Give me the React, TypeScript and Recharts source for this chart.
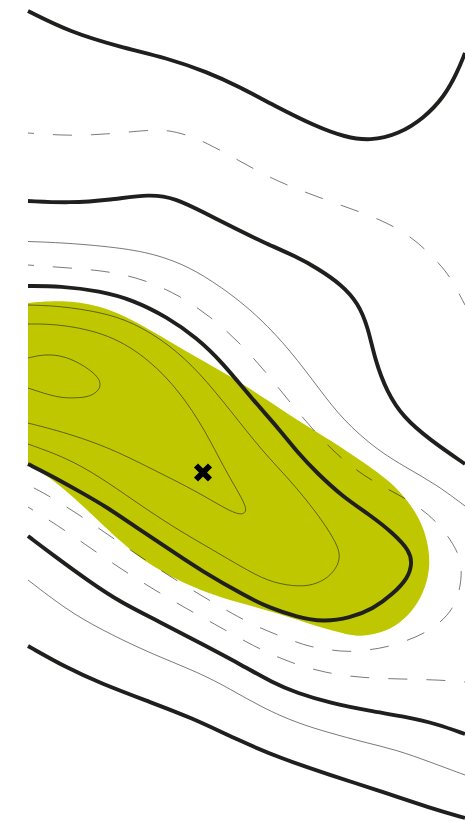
import React from "react";
import { ScatterChart, Scatter, XAxis, YAxis } from "recharts";

type Pt = [number, number];

const INK = "#1f1f1d";
const FILL = "#bfc700";

// contours, x / y in map units
const zoneOutline: Pt[] = [[28,303],[60,300],[100,305],[135,321],[170,342],[205,362],[240,382],[267,400],[297,420],[330,440],[363,462],[390,481],[409,502],[422,523],[429,547],[430,570],[424,592],[412,612],[395,627],[377,634],[357,637],[337,632],[307,623],[273,612],[240,603],[207,593],[177,580],[147,563],[128,548],[107,529],[80,503],[50,477],[28,465]];

const thickTop: Pt[] = [[28,11],[70,32],[120,47],[167,58],[207,72],[240,87],[273,105],[317,127],[345,137],[370,141],[399,134],[424,118],[444,97],[457,73],[465,53]];
const thickSecond: Pt[] = [[28,201],[70,203],[110,200],[150,194],[175,198],[205,213],[240,231],[263,242],[297,257],[317,268],[342,285],[358,303],[368,327],[375,360],[387,392],[403,417],[430,440],[465,464]];
const thickZone: Pt[] = [[28,286],[60,286],[100,291],[133,300],[167,317],[197,338],[222,362],[253,400],[280,430],[297,452],[317,473],[343,497],[370,515],[393,533],[410,551],[412,564],[408,578],[393,594],[373,609],[350,618],[323,622],[297,617],[270,608],[247,597],[200,570],[172,551],[140,530],[107,507],[77,490],[50,475],[28,464]];
const thickLower: Pt[] = [[28,536],[53,555],[90,582],[120,602],[160,622],[200,643],[240,664],[273,683],[297,693],[330,703],[370,711],[407,717],[437,724],[465,734]];
const thickBottom: Pt[] = [[28,646],[67,668],[100,683],[147,701],[190,717],[240,741],[280,758],[330,775],[380,791],[430,808],[465,818]];

const thinUpper: Pt[] = [[28,241.5],[70,243],[133,249],[167,258],[195,270],[230,293],[260,318],[290,350],[320,390],[343,420],[377,450],[407,468],[437,485],[465,506]];
const thinLower: Pt[] = [[28,580],[67,610],[100,629],[147,652],[200,673],[230,689],[263,708],[297,723],[330,733],[363,742],[397,750],[430,762],[465,775]];
const thinOuter: Pt[] = [[28,305],[60,306],[100,312],[133,322],[170,345],[200,373],[230,410],[263,452],[290,480],[317,513],[335,540],[342,558],[332,575],[317,584],[300,587],[273,583],[250,572],[213,550],[173,527],[133,500],[100,477],[67,458],[28,444]];
const thinTongue: Pt[] = [[28,324],[60,324],[110,334],[150,360],[180,392],[205,430],[225,470],[245,503],[247,513],[237,516],[200,493],[150,468],[110,448],[67,433],[28,423]];
const thinCore: Pt[] = [[28,358],[45,354],[65,356],[85,366],[100,378],[101,389],[90,397],[75,398],[58,398],[28,388]];

const dashedTop: Pt[] = [[28,133],[70,136],[110,134],[148,130],[168,130],[187,135],[205,142],[238,160],[272,179],[307,193],[343,206],[380,219],[413,237],[441,265],[452,280],[465,305]];
const dashedInner: Pt[] = [[28,265],[70,268],[107,271],[143,279],[179,295],[211,317],[239,342],[265,371],[289,401],[313,430],[340,458],[371,481],[406,498],[437,520],[459,552],[462,570],[460,590],[453,609],[440,623],[423,634],[406,641],[387,647],[369,650],[349,652],[330,650],[311,647],[293,641],[275,634],[258,627],[240,618],[207,599],[174,579],[142,558],[110,536],[78,514],[46,494],[28,485]];
const dashedOuter: Pt[] = [[28,507],[57,525],[89,547],[121,569],[153,589],[187,609],[220,627],[253,646],[288,662],[325,673],[363,678],[402,679],[441,680],[465,682]];

const marker: Pt[] = [[203,472.5]];

const thickLines = [thickTop, thickSecond, thickZone, thickLower, thickBottom];
const thinLines = [thinUpper, thinLower, thinOuter, thinTongue, thinCore];
const dashedLines = [dashedTop, dashedInner, dashedOuter];

const toRows = (pts: Pt[]) => pts.map(([x, y]) => ({ x, y }));
const NoDot = () => <g />;

const Cross = ({ cx, cy }: any) => (
  <path
    d={`M${cx - 7} ${cy - 7}L${cx + 7} ${cy + 7}M${cx + 7} ${cy - 7}L${cx - 7} ${cy + 7}`}
    stroke="#000"
    strokeWidth={5.8}
    fill="none"
  />
);

export default function App() {
  return (
    <div style={{ position: "absolute", left: 0, top: 0, width: 465, height: 822, overflow: "hidden", background: "#fff" }}>
      <ScatterChart width={465} height={822} margin={{ top: 0, right: 0, bottom: 0, left: 28 }}>
        <XAxis type="number" dataKey="x" domain={[28, 465]} hide />
        <YAxis type="number" dataKey="y" domain={[0, 822]} reversed hide />
        <Scatter
          data={toRows(zoneOutline)}
          line={{ fill: FILL, stroke: "none" }}
          lineJointType="basis"
          shape={NoDot}
          isAnimationActive={false}
        />
        {thinLines.map((pts, i) => (
          <Scatter
            key={`thin-${i}`}
            data={toRows(pts)}
            line={{ stroke: INK, strokeWidth: 0.6 }}
            lineJointType="basis"
            shape={NoDot}
            isAnimationActive={false}
          />
        ))}
        {dashedLines.map((pts, i) => (
          <Scatter
            key={`dashed-${i}`}
            data={toRows(pts)}
            line={{ stroke: INK, strokeWidth: 0.6, strokeDasharray: "19 19", strokeDashoffset: 13 }}
            lineJointType="basis"
            shape={NoDot}
            isAnimationActive={false}
          />
        ))}
        {thickLines.map((pts, i) => (
          <Scatter
            key={`thick-${i}`}
            data={toRows(pts)}
            line={{ stroke: INK, strokeWidth: 3.9 }}
            lineJointType="basis"
            shape={NoDot}
            isAnimationActive={false}
          />
        ))}
        <Scatter data={toRows(marker)} shape={Cross} isAnimationActive={false} />
      </ScatterChart>
    </div>
  );
}
